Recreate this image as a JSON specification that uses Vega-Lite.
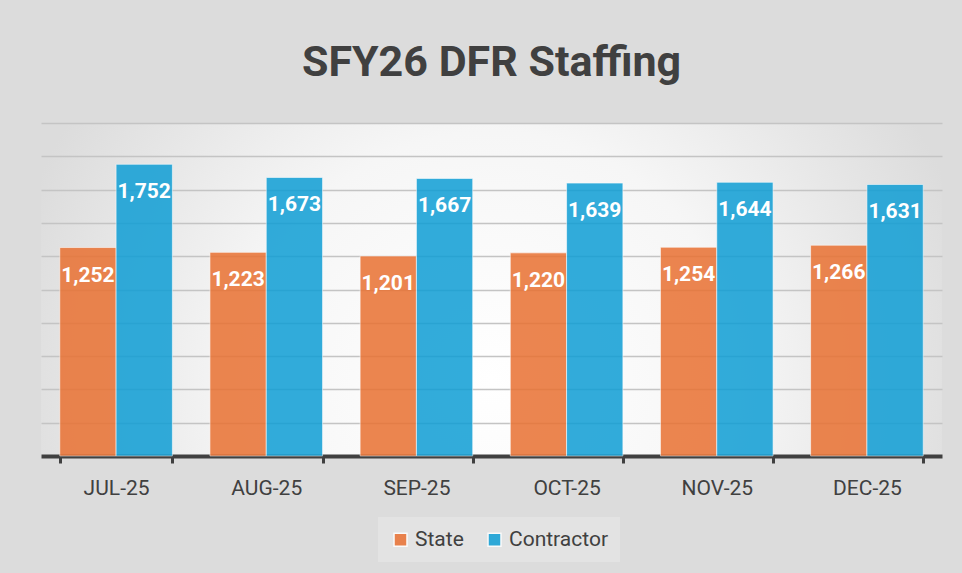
{
  "$schema": "https://vega.github.io/schema/vega-lite/v6.json",
  "width": 901,
  "height": 333,
  "autosize": {"type": "none"},
  "padding": {"left": 41, "top": 123, "right": 20, "bottom": 117},
  "background": "#dcdcdc",
  "title": {
    "text": "SFY26 DFR Staffing",
    "font": "Roboto",
    "fontSize": 43,
    "fontWeight": "bold",
    "color": "#404040",
    "anchor": "middle",
    "offset": 38
  },
  "data": {
    "values": [
      {"month": "JUL-25", "series": "State", "value": 1252},
      {"month": "JUL-25", "series": "Contractor", "value": 1752},
      {"month": "AUG-25", "series": "State", "value": 1223},
      {"month": "AUG-25", "series": "Contractor", "value": 1673},
      {"month": "SEP-25", "series": "State", "value": 1201},
      {"month": "SEP-25", "series": "Contractor", "value": 1667},
      {"month": "OCT-25", "series": "State", "value": 1220},
      {"month": "OCT-25", "series": "Contractor", "value": 1639},
      {"month": "NOV-25", "series": "State", "value": 1254},
      {"month": "NOV-25", "series": "Contractor", "value": 1644},
      {"month": "DEC-25", "series": "State", "value": 1266},
      {"month": "DEC-25", "series": "Contractor", "value": 1631}
    ]
  },
  "encoding": {
    "x": {
      "field": "month",
      "type": "nominal",
      "sort": null,
      "scale": {"paddingInner": 0.25, "paddingOuter": 0.125},
      "axis": {
        "title": null,
        "labelAngle": 0,
        "labelFont": "Roboto",
        "labelFontSize": 21,
        "labelColor": "#404040",
        "labelPadding": 14,
        "domainColor": "#404040",
        "domainWidth": 4,
        "tickColor": "#404040",
        "tickWidth": 3,
        "tickSize": 7,
        "tickBand": "extent",
        "grid": false
      }
    },
    "xOffset": {"field": "series", "type": "nominal", "sort": ["State", "Contractor"]},
    "y": {
      "field": "value",
      "type": "quantitative",
      "scale": {"domain": [0, 2000], "nice": false},
      "axis": {
        "title": null,
        "labels": false,
        "ticks": false,
        "domain": false,
        "values": [200, 400, 600, 800, 1000, 1200, 1400, 1600, 1800, 2000],
        "gridColor": "#c4c4c4",
        "gridWidth": 1.5
      }
    }
  },
  "layer": [
    {
      "mark": {"type": "bar", "opacity": 0.85, "stroke": "#ffffff", "strokeWidth": 1, "strokeOpacity": 0.6},
      "encoding": {
        "color": {
          "field": "series",
          "type": "nominal",
          "scale": {"domain": ["State", "Contractor"], "range": ["#E97132", "#0F9ED5"]},
          "legend": {
            "title": null,
            "orient": "none",
            "legendX": 337,
            "legendY": 394,
            "direction": "horizontal",
            "symbolType": "square",
            "symbolSize": 169,
            "symbolOpacity": 0.85,
            "labelFont": "Roboto",
            "labelFontSize": 21,
            "labelColor": "#404040",
            "columnPadding": 20,
            "padding": 12,
            "fillColor": "rgba(255,255,255,0.2)"
          }
        }
      }
    },
    {
      "mark": {"type": "text", "color": "white", "font": "Roboto", "fontSize": 21, "fontWeight": "bold", "baseline": "middle", "dy": 28},
      "encoding": {
        "text": {"field": "value", "type": "quantitative", "format": ","}
      }
    }
  ],
  "config": {
    "view": {
      "stroke": null,
      "fill": {
        "gradient": "radial",
        "x1": 0.5, "y1": 0.6, "r1": 0,
        "x2": 0.5, "y2": 0.6, "r2": 0.55,
        "stops": [
          {"offset": 0, "color": "#ffffff"},
          {"offset": 0.5, "color": "#f6f6f6"},
          {"offset": 1, "color": "#dcdcdc"}
        ]
      }
    }
  }
}
